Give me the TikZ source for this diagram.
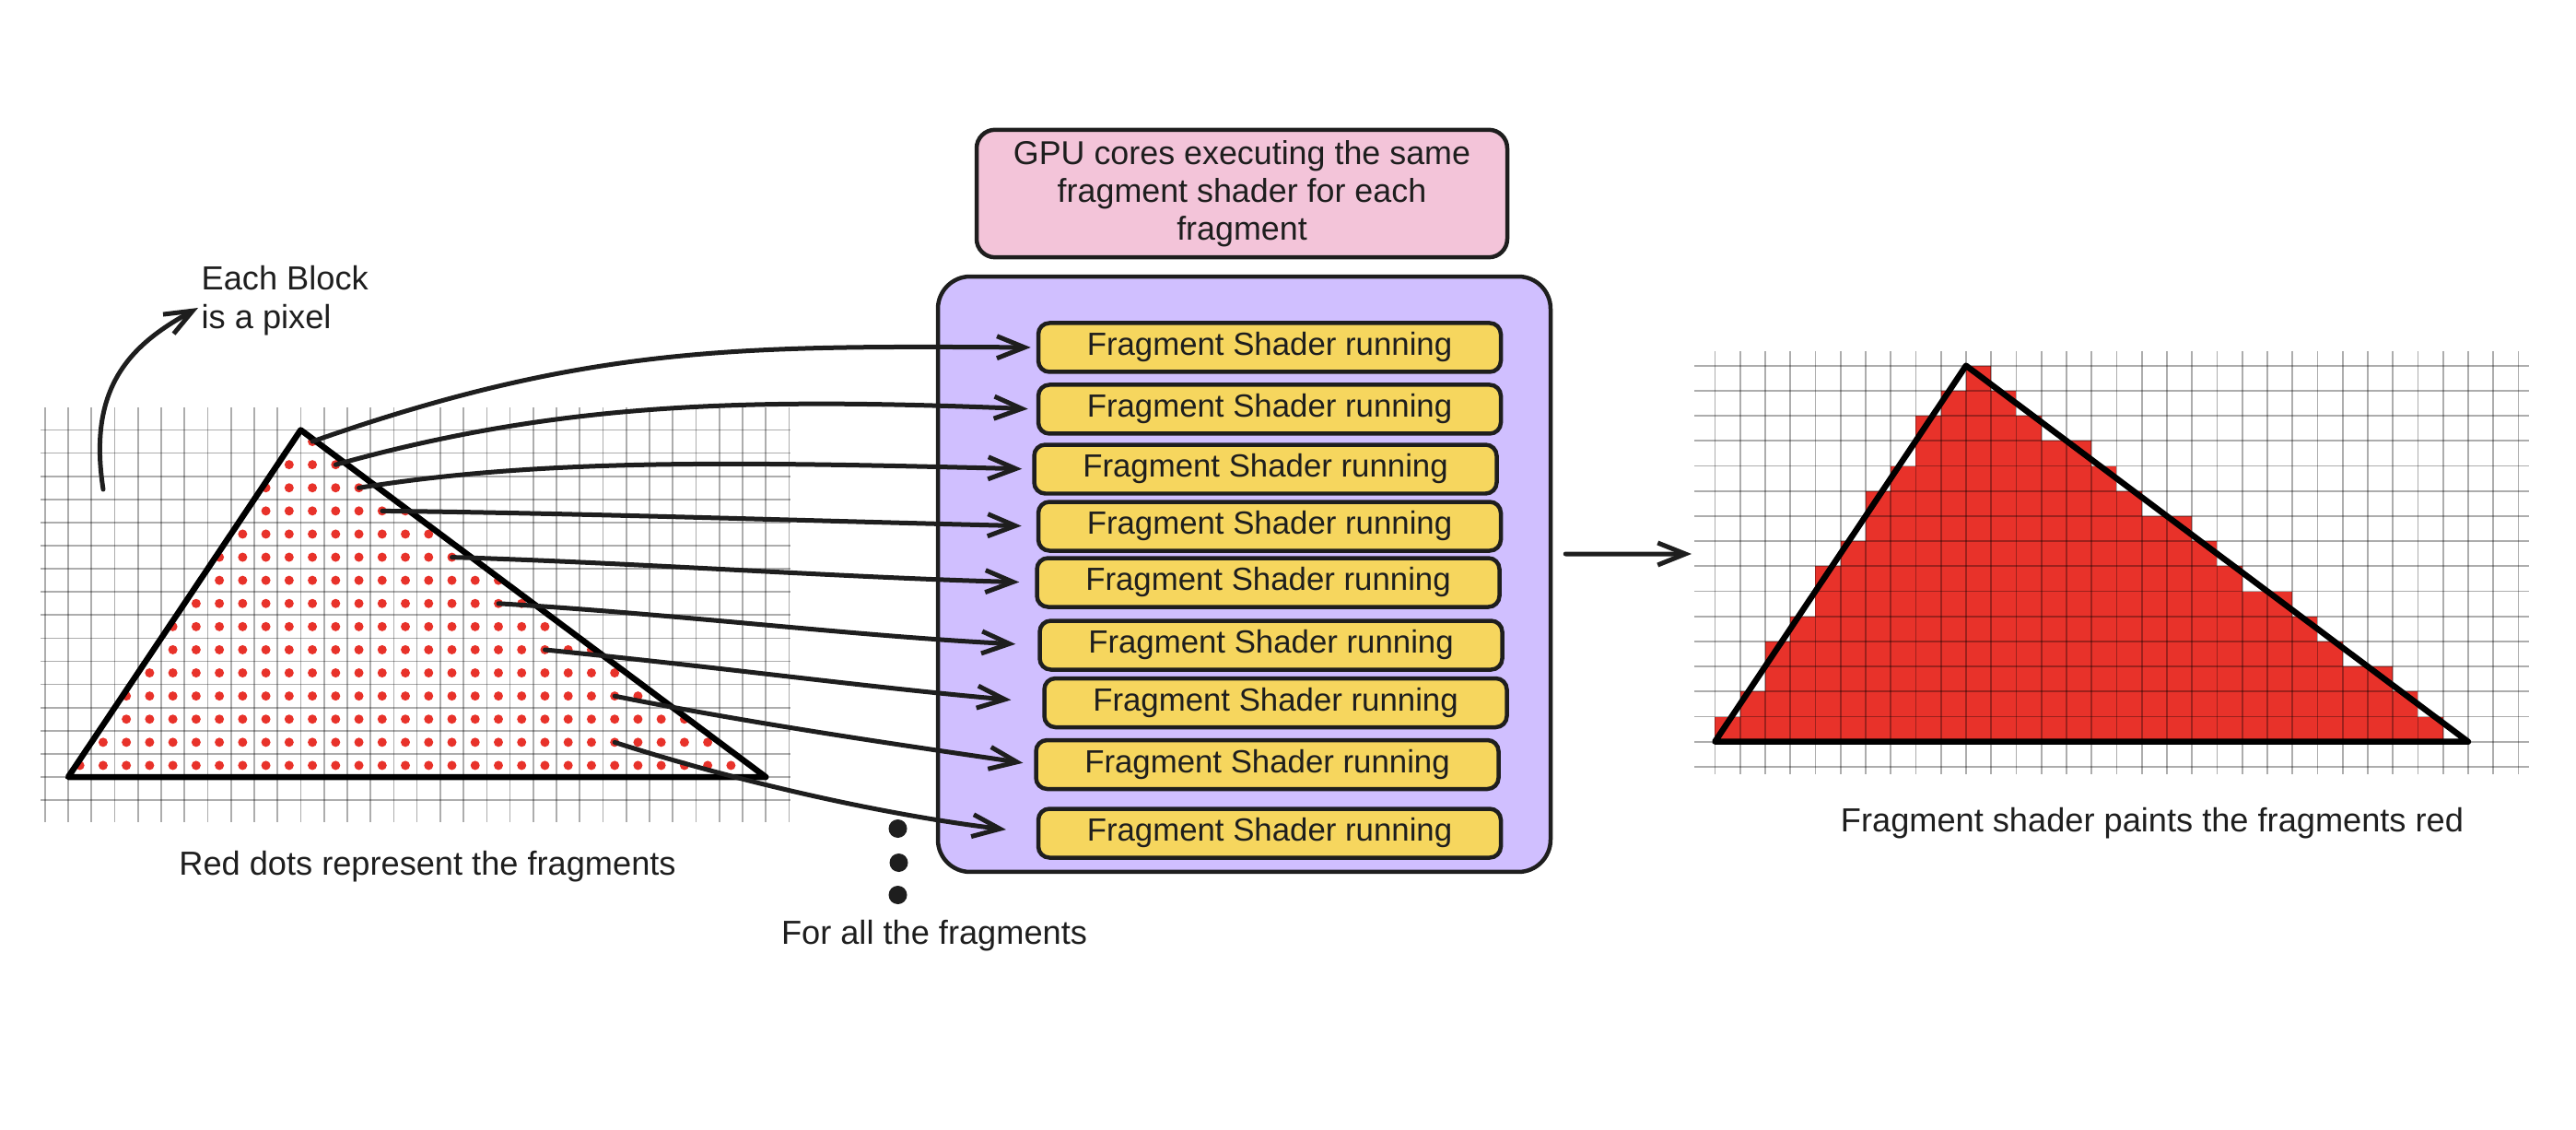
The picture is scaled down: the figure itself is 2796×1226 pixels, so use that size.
\documentclass[tikz,border=0pt]{standalone}
\usepackage{fontspec}
\setmainfont{Liberation Sans}
\usetikzlibrary{arrows.meta,positioning,calc}
\definecolor{inkblack}{HTML}{1E1E1E}
\definecolor{corepink}{HTML}{F3C4D9}
\definecolor{corepurple}{HTML}{D0BFFF}
\definecolor{shaderyellow}{HTML}{F6D65E}
\definecolor{fragred}{HTML}{E8322A}

\begin{document}
\begin{tikzpicture}[
  x=0.1mm, y=-0.1mm,
  shader/.style={draw=inkblack, line width=0.45mm, fill=shaderyellow, rounded corners=1.2mm, minimum width=50.2mm, minimum height=5.3mm, inner sep=0pt, text=inkblack, font=\fontsize{9.9}{12}\selectfont},
  notetext/.style={text=inkblack, inner sep=0pt, font=\fontsize{10.3}{11.9}\selectfont},
  arr/.style={-{Straight Barb[length=3mm, width=2.4mm]}, line width=0.5mm, draw=inkblack, line cap=round},
  gridline/.style={line width=0.17mm, black, opacity=0.32},
  tri/.style={line width=0.65mm, black, line join=round, line cap=round},
]
  \useasboundingbox (0,0) rectangle (2796,1226);

  % Left grid with the fragments as dots
  \foreach \i in {0,...,32}
    \draw[gridline] (48.8+25.24*\i, 442) -- (48.8+25.24*\i, 892);
  \foreach \j in {0,...,16}
    \draw[gridline] (44, 466.5+25.1*\j) -- (858, 466.5+25.1*\j);
  \foreach \j in {0,...,14} {
    \pgfmathtruncatemacro\imin{ceil(1+10*(14.5-\j)/15-0.5)}
    \pgfmathtruncatemacro\imax{floor(31-20*(14.5-\j)/15-0.5)}
    \foreach \i in {\imin,...,\imax}
      \fill[fragred] (48.8+25.24*\i+12.62, 466.5+25.1*\j+12.55) circle[radius=0.5mm];
  }
  \draw[tri] (74.04,843) -- (326.4,466.5) -- (831.2,843) -- cycle;

  % Right grid with the painted pixels
  \foreach \j in {0,...,14} {
    \pgfmathtruncatemacro\imin{ceil(10*(14.5-\j)/15-0.5)}
    \pgfmathtruncatemacro\imax{floor(30-20*(14.5-\j)/15-0.5)}
    \fill[fragred] (1861.4+27.25*\imin, 396.7+27.2*\j) rectangle (1861.4+27.25*\imax+27.25, 396.7+27.2*\j+27.2);
  }
  \foreach \i in {0,...,32}
    \draw[gridline] (1861.4+27.25*\i, 381) -- (1861.4+27.25*\i, 840);
  \foreach \j in {0,...,16}
    \draw[gridline] (1839, 396.7+27.2*\j) -- (2745, 396.7+27.2*\j);
  \draw[tri] (1861.4,804.7) -- (2133.9,396.7) -- (2678.9,804.7) -- cycle;

  % GPU cores
  \node[draw=inkblack, line width=0.45mm, fill=corepink, rounded corners=2mm, minimum width=57.6mm, minimum height=13.8mm, align=center, text=inkblack, font=\fontsize{10.2}{11.6}\selectfont] (gpu) at (1348,210) {GPU cores executing the same\\fragment shader for each\\fragment};
  \node[draw=inkblack, line width=0.45mm, fill=corepurple, rounded corners=3.5mm, minimum width=66.5mm, minimum height=64.6mm] (cores) at (1350.5,623) {};

  \node[shader] (fs1) at (1378,377) {Fragment Shader running};
  \node[shader] (fs2) at (1378,444) {Fragment Shader running};
  \node[shader] (fs3) at (1373.5,509) {Fragment Shader running};
  \node[shader] (fs4) at (1378,571) {Fragment Shader running};
  \node[shader] (fs5) at (1376.5,632) {Fragment Shader running};
  \node[shader] (fs6) at (1379.5,700) {Fragment Shader running};
  \node[shader] (fs7) at (1384.5,762.5) {Fragment Shader running};
  \node[shader] (fs8) at (1375.5,829.5) {Fragment Shader running};
  \node[shader] (fs9) at (1378,904) {Fragment Shader running};

  % Fragments sent to the cores
  \coordinate (f1) at (339.1,479);
  \coordinate (f2) at (364.3,504.2);
  \coordinate (f3) at (389.5,529.3);
  \coordinate (f4) at (414.8,554.4);
  \coordinate (f5) at (490.5,604.6);
  \coordinate (f6) at (541,654.8);
  \coordinate (f7) at (591.5,705);
  \coordinate (f8) at (667.2,755.2);
  \coordinate (f9) at (667.2,805.4);

  \draw[arr, shorten >=0.6mm] (f1) .. controls +(300,-105) and +(-320,-2) .. (fs1.west);
  \draw[arr, shorten >=0.9mm] (f2) .. controls +(250,-70) and +(-300,-12) .. (fs2.west);
  \draw[arr, shorten >=1.1mm] (f3) .. controls +(200,-32) and +(-320,-8) .. (fs3.west);
  \draw[arr, shorten >=1.6mm] (f4) .. controls +(200,2) and +(-250,-6) .. (fs4.west);
  \draw[arr, shorten >=1.7mm] (f5) .. controls +(200,6) and +(-200,-5) .. (fs5.west);
  \draw[arr, shorten >=2.4mm] (f6) .. controls +(200,12) and +(-200,-10) .. (fs6.west);
  \draw[arr, shorten >=3.4mm] (f7) .. controls +(200,20) and +(-200,-18) .. (fs7.west);
  \draw[arr, shorten >=1.2mm] (f8) .. controls +(150,30) and +(-150,-22) .. (fs8.west);
  \draw[arr, shorten >=3.3mm] (f9) .. controls +(150,48) and +(-150,-18) .. (fs9.west);

  % More fragments
  \fill[inkblack] (974.5,899) circle[radius=1mm];
  \fill[inkblack] (975.5,936) circle[radius=1mm];
  \fill[inkblack] (974.5,971) circle[radius=1mm];

  % Cores to painted pixels
  \coordinate (rgrid) at (1836,601);
  \draw[arr] ([xshift=1.4mm,yshift=2.2mm]cores.east) -- (rgrid);

  % Captions
  \node[notetext, anchor=west, align=left] (pixnote) at (218,326) {Each Block\\is a pixel};
  \coordinate (hint) at (112,531);
  \draw[arr] (hint) .. controls +(-17,-110) and +(-75,41) .. ([xshift=-0.3mm,yshift=-0.8mm]pixnote.west);

  \node[notetext] (leftcap) at (464,940) {Red dots represent the fragments};
  \node[notetext] (allfrag) at (1014,1015) {For all the fragments};
  \node[notetext] (rightcap) at (2336,893) {Fragment shader paints the fragments red};
\end{tikzpicture}
\end{document}
